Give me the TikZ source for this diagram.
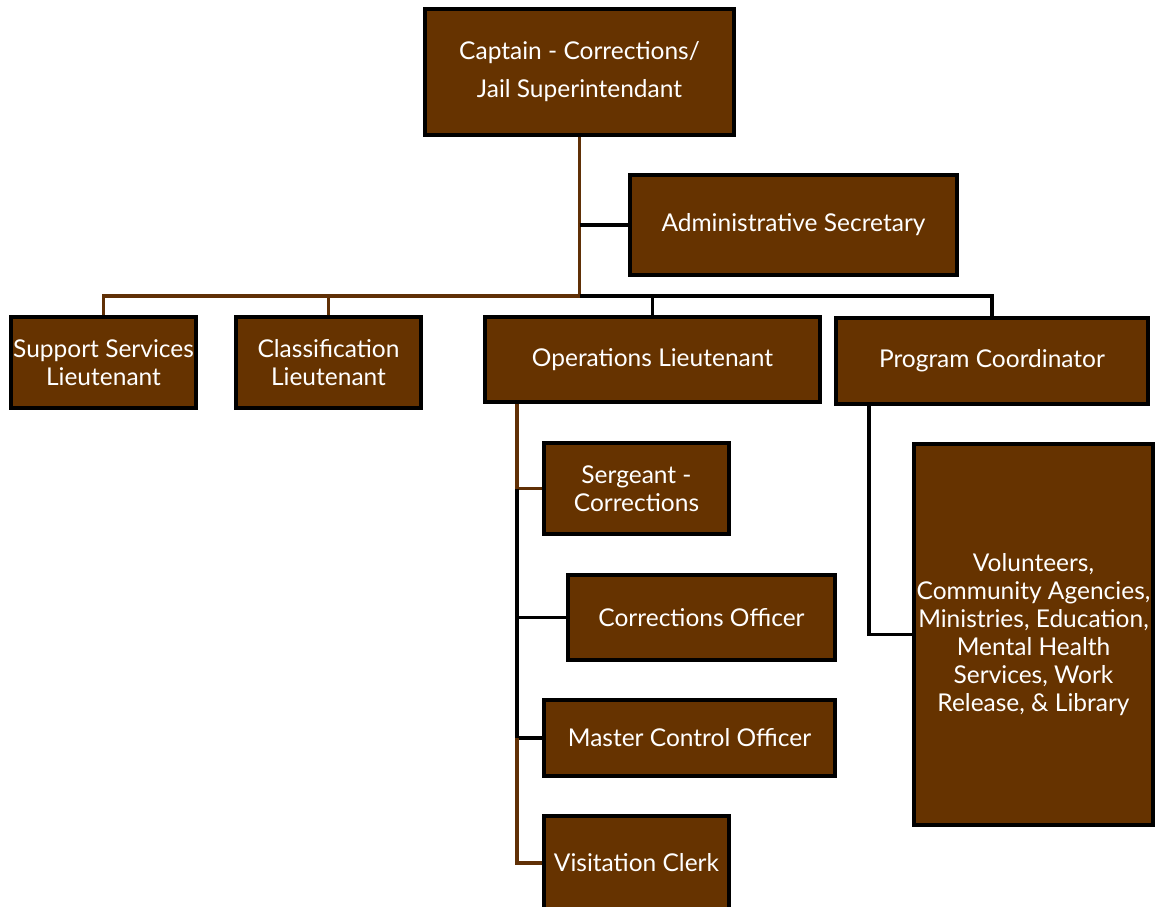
\documentclass[tikz,border=0pt]{standalone}
\usepackage{fontspec}
\setmainfont{Lato}
\usetikzlibrary{calc}
\definecolor{boxbrown}{RGB}{102,51,0}
\definecolor{linebrown}{RGB}{96,48,6}
\tikzset{
  orgbox/.style={draw=black, line width=4pt, fill=boxbrown, text=white, align=center,
    inner sep=0pt, font=\fontsize{24.5}{28}\selectfont},
  widelines/.style={font=\fontsize{24.5}{38}\selectfont},
  brownline/.style={draw=linebrown, line width=3.5pt},
  blackline/.style={draw=black, line width=3.5pt},
}
\newcommand{\bx}[7][]{%
  \node[orgbox, #1, minimum width={(#5)-(#3)}, minimum height={(#6)-(#4)}]
    (#2) at ({((#3)+(#5))/2},{-((#4)+(#6))/2}) {#7};}
\begin{document}
\begin{tikzpicture}[x=1pt,y=1pt]
\useasboundingbox (0,0) rectangle (1156,-907);
\bx[widelines]{cap}{425}{9}{734}{135}{Captain - Corrections/\\Jail Superintendant}
\bx{adm}{630}{175}{957}{275}{Administrative Secretary}
\bx{sup}{11}{317}{196}{408}{Support Services\\Lieutenant}
\bx{cla}{236}{317}{421}{408}{Classification\\Lieutenant}
\bx{ops}{485}{317}{820}{402}{Operations Lieutenant}
\bx{prg}{836}{318}{1148}{404}{Program Coordinator}
\bx{srg}{544}{443}{729}{534}{Sergeant -\\Corrections}
\bx{cor}{568}{575}{835}{660}{Corrections Officer}
\bx{mas}{544}{700}{835}{776}{Master Control Officer}
\bx{vis}{544}{816}{729}{910}{Visitation Clerk}
\bx{vol}{914}{444}{1153}{825}{Volunteers,\\Community Agencies,\\Ministries, Education,\\Mental Health\\Services, Work\\Release, \& Library}
% bus points
\coordinate (bus) at (cap.south |- 0,-296);
\coordinate (admj) at (cap.south |- adm.west);
\coordinate (o0) at ($(ops.south west)+(34,0)$);
\coordinate (oS) at (o0 |- srg.west);
\coordinate (oM) at (o0 |- mas.west);
\coordinate (p0) at (869,0 |- prg.south);
% connectors
\draw[brownline] (cap.south) -- (bus);
\draw[brownline] (bus) -| (sup.north);
\draw[brownline] (bus) -| (cla.north);
\draw[blackline] (admj) -- (adm.west);
\draw[blackline] (bus) -| (ops.north);
\draw[blackline] (bus) -| (prg.north);
\draw[brownline] (o0) -- (oS) -- (srg.west);
\draw[blackline] (oS) -- (oM);
\draw[blackline] (o0 |- cor.west) -- (cor.west);
\draw[blackline] (oM) -- (mas.west);
\draw[brownline] (oM) |- (vis.west);
\draw[blackline] (p0) |- (vol.west);
\end{tikzpicture}
\end{document}
